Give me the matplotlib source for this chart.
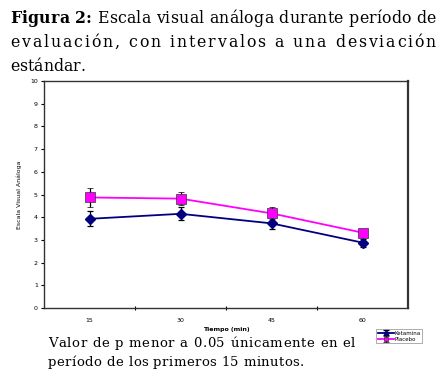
import matplotlib
matplotlib.use("Agg")
import matplotlib.pyplot as plt
import numpy as np

# data
tiempos = ["15", "30", "45", "60"]
ketamina = [3.93, 4.15, 3.73, 2.88]
ketamina_sd = [0.33, 0.28, 0.26, 0.18]
placebo = [4.87, 4.82, 4.17, 3.32]
placebo_sd = [0.40, 0.30, 0.26, 0.18]

fig = plt.figure(figsize=(4.41, 3.77), dpi=100)
ax = fig.add_axes([0.0998, 0.183, 0.8254, 0.602])

x = np.arange(len(tiempos))
ax.errorbar(x, ketamina, yerr=ketamina_sd, color="#000080", marker="D", ms=5,
            lw=1.3, ecolor="black", elinewidth=0.9, capsize=2.5, capthick=0.9,
            label="Ketamina", zorder=3)
ax.errorbar(x, placebo, yerr=placebo_sd, color="#FF00FF", marker="s", ms=6.5,
            mec="#333333", mew=0.5, lw=1.3, ecolor="black", elinewidth=0.9,
            capsize=2.5, capthick=0.9, label="Placebo", zorder=3)

ax.set_xlim(-0.5, len(tiempos) - 0.5)
ax.set_ylim(0, 10)
ax.set_yticks(range(0, 11))
ax.set_xticks(x)
ax.set_xticklabels(tiempos)
ax.set_xticks(np.arange(0.5, len(tiempos) - 0.5, 1), minor=True)
ax.tick_params(axis="x", which="major", length=0, labelsize=4.5, pad=7)
ax.tick_params(axis="x", which="minor", length=2.5, direction="inout", width=0.8)
ax.tick_params(axis="y", length=2.5, width=0.8, labelsize=4.5, pad=2)
for s in ax.spines.values():
    s.set_color("#333333")
    s.set_linewidth(1.0)
ax.spines["right"].set_linewidth(1.6)
ax.set_xlabel("Tiempo (min)", fontsize=4.5, fontweight="bold", labelpad=3)
ax.set_ylabel("Escala Visual Análoga", fontsize=4.5, labelpad=6)

leg = ax.legend(loc="upper left", bbox_to_anchor=(0.913, -0.093), fontsize=4,
                frameon=True, fancybox=False, edgecolor="#888888",
                handlelength=2.9, handletextpad=0.15, borderpad=0.25,
                labelspacing=0.25, borderaxespad=0, markerscale=0.5)
leg.get_frame().set_linewidth(0.6)

# justified serif caption lines, spread letter by letter like the original
fig.canvas.draw()
r = fig.canvas.get_renderer()
H = 377


def spread(text, x0, x1, y, size, bold_upto=0):
    arts = []
    for i, ch in enumerate(text):
        t = fig.text(0, H - y, ch, fontsize=size, family="DejaVu Serif",
                     fontweight="bold" if i < bold_upto else "normal",
                     va="baseline", transform=None)
        arts.append(t)
    widths = []
    for a, ch in zip(arts, text):
        if ch == " ":
            widths.append(size * 100 / 72 * 0.32)
        else:
            widths.append(a.get_window_extent(r).width)
    gap = 0.0
    if x1 is not None:
        gap = (x1 - x0 - sum(widths)) / max(len(text) - 1, 1)
    pos = x0
    for a, w in zip(arts, widths):
        a.set_x(pos)
        pos += w + gap


spread("Figura 2: Escala visual análoga durante período de", 10, 436, 23, 11.3, bold_upto=9)
spread("evaluación, con intervalos a una desviación", 10, 436, 47, 11.3)
spread("estándar.", 10, None, 71, 11.3)
spread("Valor de p menor a 0.05 únicamente en el", 48, 355, 347, 9.5)
spread("período de los primeros 15 minutos.", 48, 304, 366, 9.5)

fig.savefig("out.png", dpi=100)
